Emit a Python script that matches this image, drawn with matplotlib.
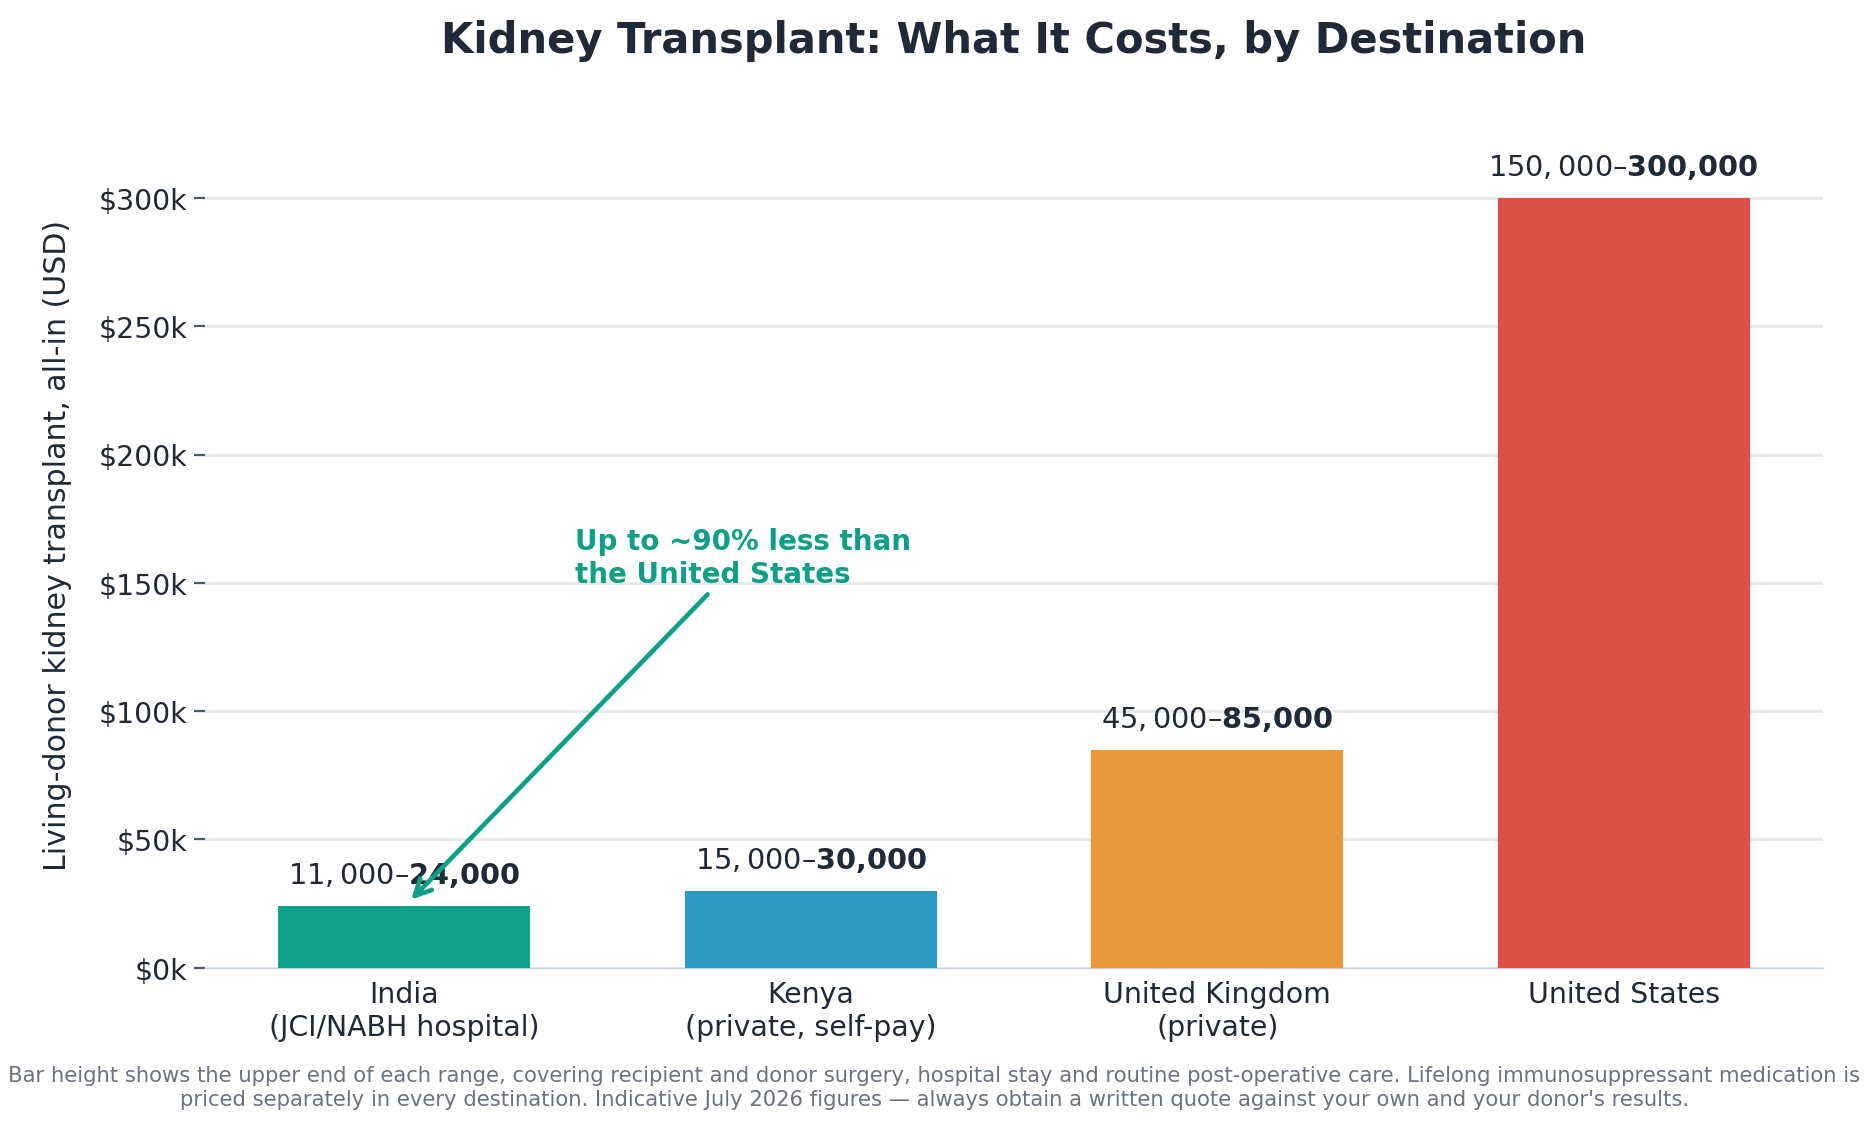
import matplotlib
matplotlib.use("Agg")
import matplotlib.pyplot as plt
from matplotlib.ticker import FuncFormatter

# values
destinations = ["India\n(JCI/NABH hospital)", "Kenya\n(private, self-pay)",
                "United Kingdom\n(private)", "United States"]
cost_low = [11000, 15000, 45000, 150000]
cost_high = [24000, 30000, 85000, 300000]
bar_colors = ["#0fa088", "#2e9bc6", "#e8973a", "#dc5146"]

DARK = "#1f2937"
GREEN = "#0e9f86"

plt.rcParams["font.family"] = ["DejaVu Sans"]

fig = plt.figure(figsize=(14, 8.46), dpi=133.43)
ax = fig.add_axes([0.1097, 0.142, 0.8663, 0.750])

x = list(range(len(destinations)))
bars = ax.bar(x, cost_high, width=0.62, color=bar_colors, zorder=3)

for xi, lo, hi in zip(x, cost_low, cost_high):
    # the original label string renders its first part as mathtext
    label = f"${lo:,}–${hi:,}"
    ax.annotate(label, xy=(xi, hi), xytext=(0, 9), textcoords="offset points",
                ha="center", va="bottom", fontsize=15.5, fontweight="bold", color=DARK)

ax.set_ylim(0, 330000)
ax.set_yticks([0, 50000, 100000, 150000, 200000, 250000, 300000])
ax.yaxis.set_major_formatter(FuncFormatter(lambda v, p: f"\\${v/1000:.0f}k"))
ax.set_xticks(x)
ax.set_xticklabels(destinations)

ax.tick_params(axis="y", labelsize=15.3, length=6, width=1.2, color="#4b5563", labelcolor=DARK, pad=3.5)
ax.tick_params(axis="x", labelsize=15.3, length=0, pad=7, labelcolor=DARK)

ax.grid(axis="y", color="#e5e7eb", linewidth=1.5, zorder=0)
ax.set_axisbelow(True)
for side in ["top", "right", "left"]:
    ax.spines[side].set_visible(False)
ax.spines["bottom"].set_color("#cbd5e1")

ax.set_ylabel("Living-donor kidney transplant, all-in (USD)", fontsize=16.2, color=DARK, labelpad=14)
ax.set_title("Kidney Transplant: What It Costs, by Destination", fontsize=22.5, fontweight="bold",
             color=DARK, pad=37)

ax.annotate("Up to ~90% less than\nthe United States", xy=(0.01, 25500), xytext=(0.42, 148000),
            ha="left", va="bottom", fontsize=15, fontweight="bold", color=GREEN,
            arrowprops=dict(arrowstyle="->", color=GREEN, lw=2.5, mutation_scale=22))

fig.text(0.5, 0.017,
         "Bar height shows the upper end of each range, covering recipient and donor surgery, hospital stay and routine post-operative care. Lifelong immunosuppressant medication is\n"
         "priced separately in every destination. Indicative July 2026 figures — always obtain a written quote against your own and your donor's results.",
         ha="center", va="bottom", fontsize=11.4, color="#6b7280")

fig.savefig("out.png", dpi=133.43)
